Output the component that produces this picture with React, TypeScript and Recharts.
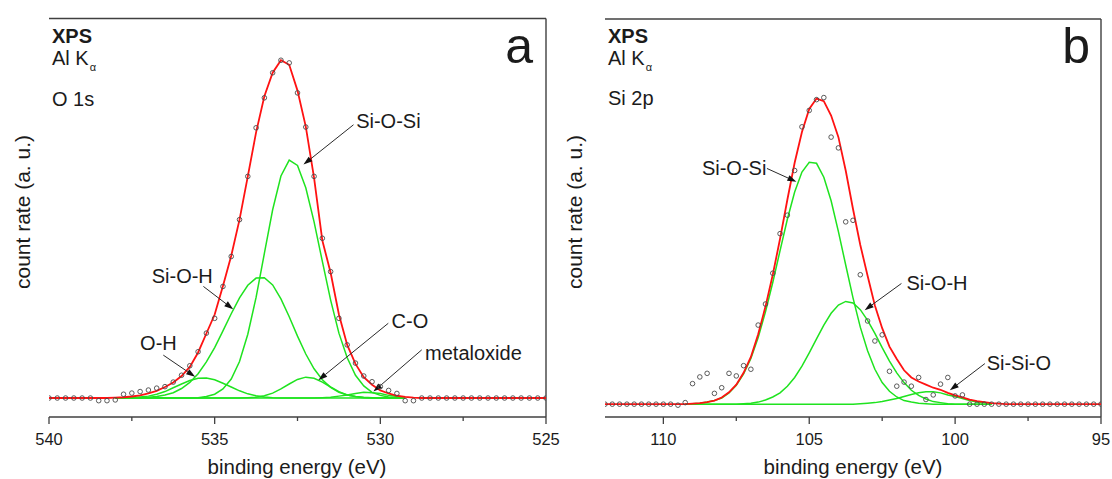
import React from 'react';
import { ComposedChart, Line, XAxis, YAxis, ReferenceLine, ReferenceDot } from 'recharts';

const FONT = '"Liberation Sans", Arial, Helvetica, sans-serif';
const INK = '#1b1b1b';
const FRAME = '#404040';
const RED = '#ff1212';
const GREEN = '#1fe31f';
const DOT = '#4a4a4a';

// ---------- panel a : O 1s ----------
const energyA = [540, 539.75, 539.5, 539.25, 539, 538.75, 538.5, 538.25, 538, 537.75, 537.5, 537.25, 537, 536.75, 536.5, 536.25, 536, 535.75, 535.5, 535.25, 535, 534.75, 534.5, 534.25, 534, 533.75, 533.5, 533.25, 533, 532.75, 532.5, 532.25, 532, 531.75, 531.5, 531.25, 531, 530.75, 530.5, 530.25, 530, 529.75, 529.5, 529.25, 529, 528.75, 528.5, 528.25, 528, 527.75, 527.5, 527.25, 527, 526.75, 526.5, 526.25, 526, 525.75, 525.5, 525.25, 525];
const measA = [0, 0, 0, 0, 0, 0, -0.07, -0.07, -0.05, 0.1, 0.13, 0.17, 0.21, 0.26, 0.3, 0.42, 0.6, 0.85, 1.22, 1.71, 2.1, 2.94, 3.73, 4.7, 5.84, 7.12, 7.91, 8.57, 8.9, 8.83, 8.04, 7.14, 5.84, 4.21, 3.33, 2.1, 1.4, 0.92, 0.58, 0.43, 0.3, 0.2, 0.12, -0.07, -0.07, 0, 0, 0, 0, 0, 0, 0, 0, 0, 0, 0, 0, 0, 0, 0, 0];
const fitA = [0, 0, 0, 0, 0, 0, 0, 0, 0.01, 0.02, 0.04, 0.07, 0.12, 0.19, 0.29, 0.41, 0.58, 0.82, 1.2, 1.7, 2.2, 2.95, 3.75, 4.7, 5.84, 7.0, 7.95, 8.57, 8.9, 8.78, 8.1, 7.15, 5.8, 4.15, 3.3, 2.2, 1.4, 0.9, 0.55, 0.35, 0.2, 0.12, 0.06, 0.03, 0.01, 0, 0, 0, 0, 0, 0, 0, 0, 0, 0, 0, 0, 0, 0, 0, 0];
// fitted components, drawn from 538 to 529.25 eV
const greenEnergyA = energyA.slice(8, 44);
const sioSiA = [0, 0, 0, 0, 0, 0, 0, 0, 0, 0, 0.01, 0.04, 0.1, 0.24, 0.5, 0.96, 1.68, 2.65, 3.81, 4.96, 5.85, 6.27, 6.13, 5.54, 4.64, 3.6, 2.58, 1.71, 1.06, 0.6, 0.32, 0.15, 0.07, 0.03, 0.01, 0];
const siOHA = [0, 0, 0, 0.01, 0.02, 0.04, 0.08, 0.14, 0.25, 0.41, 0.64, 0.95, 1.33, 1.77, 2.22, 2.64, 2.97, 3.16, 3.17, 2.98, 2.61, 2.14, 1.63, 1.16, 0.77, 0.48, 0.28, 0.15, 0.08, 0.04, 0.02, 0.01, 0, 0, 0, 0];
const ohA = [0, 0, 0.01, 0.03, 0.05, 0.1, 0.17, 0.27, 0.37, 0.46, 0.52, 0.53, 0.48, 0.39, 0.29, 0.19, 0.11, 0.06, 0.03, 0.01, 0, 0, 0, 0, 0, 0, 0, 0, 0, 0, 0, 0, 0, 0, 0, 0];
const coA = [0, 0, 0, 0, 0, 0, 0, 0, 0, 0, 0, 0, 0, 0, 0, 0, 0.01, 0.02, 0.06, 0.13, 0.24, 0.37, 0.49, 0.55, 0.52, 0.42, 0.29, 0.17, 0.08, 0.04, 0.01, 0, 0, 0, 0, 0];
const metalA = [0, 0, 0, 0, 0, 0, 0, 0, 0, 0, 0, 0, 0, 0, 0, 0, 0, 0, 0, 0, 0, 0, 0, 0, 0, 0.01, 0.02, 0.05, 0.08, 0.12, 0.15, 0.14, 0.12, 0.07, 0.04, 0.02];
const xTicksA = [540, 537.5, 535, 532.5, 530, 527.5, 525];
const xLabelsA = [540, 535, 530, 525];
const yTicksA = [-0.5, 0, 0.5, 1, 1.5, 2, 2.5, 3, 3.5, 4, 4.5, 5, 5.5, 6, 6.5, 7, 7.5, 8, 8.5, 9, 9.5, 10];

// ---------- panel b : Si 2p ----------
const energyB = [112, 111.75, 111.5, 111.25, 111, 110.75, 110.5, 110.25, 110, 109.75, 109.5, 109.25, 109, 108.75, 108.5, 108.25, 108, 107.75, 107.5, 107.25, 107, 106.75, 106.5, 106.25, 106, 105.75, 105.5, 105.25, 105, 104.75, 104.5, 104.25, 104, 103.75, 103.5, 103.25, 103, 102.75, 102.5, 102.25, 102, 101.75, 101.5, 101.25, 101, 100.75, 100.5, 100.25, 100, 99.75, 99.5, 99.25, 99, 98.75, 98.5, 98.25, 98, 97.75, 97.5, 97.25, 97, 96.75, 96.5, 96.25, 96, 95.75, 95.5, 95.25, 95];
const measB = [0, 0, 0, 0, 0, 0, 0, 0, 0, 0, -0.02, 0.03, 0.4, 0.53, 0.6, 0.21, 0.32, 0.6, 0.55, 0.75, 0.68, 1.54, 1.95, 2.55, 3.32, 3.68, 4.55, 5.4, 5.72, 5.93, 5.97, 5.2, 4.99, 3.55, 3.58, 2.52, 1.62, 1.23, 1.35, 0.64, 0.35, 0.43, 0.35, 0.52, 0.09, 0.18, 0.39, 0.52, 0.16, 0.18, 0, 0, 0, 0, 0, 0, 0, 0, 0, 0, 0, 0, 0, 0, 0, 0, 0, 0, 0];
const fitB = [0, 0, 0, 0, 0, 0, 0, 0, 0, 0, 0, 0, 0.01, 0.02, 0.04, 0.07, 0.13, 0.23, 0.38, 0.61, 0.92, 1.36, 1.9, 2.52, 3.22, 3.98, 4.7, 5.3, 5.75, 5.95, 5.9, 5.62, 5.2, 4.55, 3.8, 3.1, 2.5, 1.92, 1.48, 1.12, 0.88, 0.66, 0.52, 0.44, 0.38, 0.32, 0.28, 0.22, 0.17, 0.13, 0.09, 0.06, 0.04, 0.02, 0.01, 0, 0, 0, 0, 0, 0, 0, 0, 0, 0, 0, 0, 0, 0];
// fitted components, drawn from 109.25 to 98.75 eV
const greenEnergyB = energyB.slice(11, 54);
const sioSiB = [0, 0.01, 0.02, 0.04, 0.07, 0.12, 0.22, 0.37, 0.59, 0.89, 1.3, 1.8, 2.37, 2.99, 3.6, 4.13, 4.52, 4.71, 4.69, 4.42, 3.96, 3.36, 2.71, 2.07, 1.5, 1.04, 0.68, 0.42, 0.25, 0.14, 0.07, 0.04, 0.02, 0.01, 0, 0, 0, 0, 0, 0, 0, 0, 0];
const siOHB = [0, 0, 0, 0, 0, 0, 0, 0, 0.01, 0.02, 0.04, 0.08, 0.14, 0.22, 0.35, 0.52, 0.74, 1.0, 1.27, 1.54, 1.77, 1.93, 2.0, 1.97, 1.84, 1.63, 1.38, 1.1, 0.84, 0.61, 0.42, 0.27, 0.17, 0.1, 0.05, 0.03, 0.01, 0, 0, 0, 0, 0, 0];
const siSiOB = [0, 0, 0, 0, 0, 0, 0, 0, 0, 0, 0, 0, 0, 0, 0, 0, 0, 0, 0, 0, 0, 0, 0, 0, 0.01, 0.02, 0.03, 0.05, 0.08, 0.11, 0.15, 0.19, 0.22, 0.24, 0.24, 0.22, 0.18, 0.15, 0.11, 0.07, 0.04, 0.03, 0.01];
const xTicksB = [110, 107.5, 105, 102.5, 100, 97.5, 95];
const xLabelsB = [110, 105, 100, 95];
const yTicksB = [0, 0.5, 1, 1.5, 2, 2.5, 3, 3.5, 4, 4.5, 5, 5.5, 6, 6.5, 7, 7.5];

// labelled arrows (text anchor + arrow tail/tip, in data units)
const notesA = [
  { text: 'Si-O-Si', e: 530.73, v: 7.12, from: [530.81, 7.2], to: [532.32, 6.15] },
  { text: 'Si-O-H', e: 536.9, v: 3.03, from: [535.34, 2.94], to: [534.44, 2.34] },
  { text: 'O-H', e: 537.25, v: 1.27, from: [536.55, 1.13], to: [535.59, 0.56] },
  { text: 'C-O', e: 529.66, v: 1.85, from: [529.76, 1.97], to: [531.87, 0.47] },
  { text: 'metaloxide', e: 528.65, v: 1.0, from: [528.75, 1.27], to: [530.21, 0.17] },
];
const notesB = [
  { text: 'Si-O-Si', e: 106.47, v: 4.46, anchor: 'end', from: [106.45, 4.59], to: [105.44, 4.33] },
  { text: 'Si-O-H', e: 101.67, v: 2.22, from: [101.84, 2.35], to: [103.1, 1.83] },
  { text: 'Si-Si-O', e: 98.92, v: 0.66, from: [98.98, 0.79], to: [100.18, 0.27] },
];

const tableA = energyA.map((e, i) => ({ e, meas: measA[i], fit: fitA[i] }));
const greensA = greenEnergyA.map((e, i) => ({ e, c1: sioSiA[i], c2: siOHA[i], c3: ohA[i], c4: coA[i], c5: metalA[i] }));
const tableB = energyB.map((e, i) => ({ e, meas: measB[i], fit: fitB[i] }));
const greensB = greenEnergyB.map((e, i) => ({ e, c1: sioSiB[i], c2: siOHB[i], c3: siSiOB[i] }));

function XTick(props: any) {
  const { x, y, payload, majors } = props;
  const major = majors.includes(payload.value);
  return (
    <g>
      <line x1={x} x2={x} y1={y} y2={y + (major ? 7 : 4)} stroke={FRAME} strokeWidth={1.3} />
      {major && (
        <text x={x} y={y + 28} textAnchor="middle" fontSize={16.5} fill={INK} fontFamily={FONT}>
          {payload.value}
        </text>
      )}
    </g>
  );
}

function YTick(props: any) {
  const { x, y, payload } = props;
  const len = Number.isInteger(payload.value) ? 7 : 4;
  return <line x1={x - len} x2={x} y1={y} y2={y} stroke={FRAME} strokeWidth={1.3} />;
}

function Arrow(props: any) {
  const { x1, y1, x2, y2 } = props;
  const a = Math.atan2(y2 - y1, x2 - x1);
  const len = 9;
  const half = 3;
  const bx = x2 - len * Math.cos(a);
  const by = y2 - len * Math.sin(a);
  const nx = -Math.sin(a) * half;
  const ny = Math.cos(a) * half;
  return (
    <g>
      <line x1={x1} y1={y1} x2={bx} y2={by} stroke="#2a2a2a" strokeWidth={1} />
      <polygon points={`${x2},${y2} ${bx + nx},${by + ny} ${bx - nx},${by - ny}`} fill="#111" />
    </g>
  );
}

function Panel({ left, width, margin, xDomain, xTicks, xLabels, yDomain, yTicks, table, greens, greenKeys, notes }: any) {
  return (
    <div style={{ position: 'absolute', left, top: 0 }}>
      <ComposedChart width={width} height={479} data={table} margin={margin}>
        <XAxis
          type="number"
          dataKey="e"
          domain={xDomain}
          reversed
          allowDataOverflow
          ticks={xTicks}
          interval={0}
          height={30}
          tickSize={0}
          tickMargin={0}
          tickLine={false}
          axisLine={{ stroke: FRAME, strokeWidth: 1.4 }}
          tick={(p: any) => <XTick {...p} majors={xLabels} />}
        />
        <YAxis
          type="number"
          domain={yDomain}
          allowDataOverflow
          ticks={yTicks}
          interval={0}
          width={0}
          tickSize={0}
          tickMargin={0}
          tickLine={false}
          axisLine={{ stroke: FRAME, strokeWidth: 1.4 }}
          tick={(p: any) => <YTick {...p} />}
        />
        <ReferenceLine y={yDomain[1]} stroke={FRAME} strokeWidth={1.4} />
        <ReferenceLine x={xDomain[0]} stroke={FRAME} strokeWidth={1.4} />
        {greenKeys.map((k: string) => (
          <Line
            key={k}
            data={greens}
            dataKey={k}
            type="linear"
            stroke={GREEN}
            strokeWidth={1.5}
            dot={false}
            activeDot={false}
            isAnimationActive={false}
          />
        ))}
        <Line dataKey="fit" type="linear" stroke={RED} strokeWidth={1.8} dot={false} activeDot={false} isAnimationActive={false} />
        <Line
          dataKey="meas"
          type="linear"
          stroke="none"
          dot={{ r: 2.3, stroke: DOT, strokeWidth: 0.9, fill: 'none' }}
          activeDot={false}
          isAnimationActive={false}
        />
        {notes.map((n: any) => (
          <ReferenceLine
            key={'a' + n.text}
            segment={[{ x: n.from[0], y: n.from[1] }, { x: n.to[0], y: n.to[1] }]}
            shape={(p: any) => <Arrow {...p} />}
          />
        ))}
        {notes.map((n: any) => (
          <ReferenceDot
            key={'t' + n.text}
            x={n.e}
            y={n.v}
            r={0}
            shape={(p: any) => (
              <text x={p.cx} y={p.cy} textAnchor={n.anchor || 'start'} fontSize={20} fill={INK} fontFamily={FONT}>
                {n.text}
              </text>
            )}
          />
        ))}
      </ComposedChart>
    </div>
  );
}

export default function App() {
  return (
    <div style={{ position: 'absolute', left: 0, top: 0, width: 1112, height: 479, background: '#fff' }}>
      <Panel
        left={0}
        width={572}
        margin={{ top: 18.5, right: 26, bottom: 32, left: 49 }}
        xDomain={[525, 540]}
        xTicks={xTicksA}
        xLabels={xLabelsA}
        yDomain={[-0.5, 10]}
        yTicks={yTicksA}
        table={tableA}
        greens={greensA}
        greenKeys={['c1', 'c2', 'c3', 'c4', 'c5']}
        notes={notesA}
      />
      <Panel
        left={556}
        width={556}
        margin={{ top: 19, right: 11, bottom: 32, left: 49 }}
        xDomain={[95, 112]}
        xTicks={xTicksB}
        xLabels={xLabelsB}
        yDomain={[-0.25, 7.5]}
        yTicks={yTicksB}
        table={tableB}
        greens={greensB}
        greenKeys={['c1', 'c2', 'c3']}
        notes={notesB}
      />
      <svg
        width={1112}
        height={479}
        style={{ position: 'absolute', left: 0, top: 0, pointerEvents: 'none' }}
        fontFamily={FONT}
        fill={INK}
      >
        <text x={52} y={43} fontSize={20} fontWeight="bold">XPS</text>
        <text x={52} y={65} fontSize={20}>
          Al K<tspan fontSize={11} dx={1} dy={6}>α</tspan>
        </text>
        <text x={52} y={106} fontSize={20}>O 1s</text>
        <text x={533} y={63} fontSize={50} textAnchor="end">a</text>
        <text x={297} y={474} fontSize={20.5} textAnchor="middle">binding energy (eV)</text>
        <text x={30} y={212} fontSize={21} textAnchor="middle" transform="rotate(-90 30 212)">count rate (a. u.)</text>

        <text x={608} y={43} fontSize={20} fontWeight="bold">XPS</text>
        <text x={608} y={65} fontSize={20}>
          Al K<tspan fontSize={11} dx={1} dy={6}>α</tspan>
        </text>
        <text x={608} y={105} fontSize={20}>Si 2p</text>
        <text x={1090} y={63} fontSize={50} textAnchor="end">b</text>
        <text x={853} y={474} fontSize={20.5} textAnchor="middle">binding energy (eV)</text>
        <text x={582} y={212} fontSize={21} textAnchor="middle" transform="rotate(-90 582 212)">count rate (a. u.)</text>
      </svg>
    </div>
  );
}
